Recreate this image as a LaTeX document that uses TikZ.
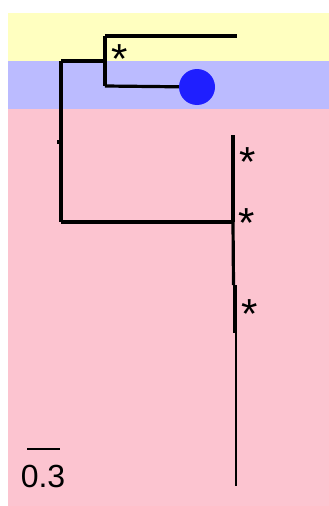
\documentclass[tikz,border=0pt]{standalone}
\usepackage{fontspec}
\setmainfont{Liberation Sans}
\definecolor{bandyellow}{RGB}{255,255,192}
\definecolor{bandblue}{RGB}{187,187,255}
\definecolor{bandpink}{RGB}{252,196,208}
\definecolor{tipblue}{RGB}{31,31,255}
\tikzset{
  branch/.style={black,line width=3.2pt},
  support/.style={inner sep=0pt,anchor=base,font=\fontsize{42}{42}\selectfont},
}

\begin{document}
\begin{tikzpicture}[x=1pt,y=-1pt]
\useasboundingbox (0,0) rectangle (329,506);
\fill[bandyellow] (8,13) rectangle (329,61);
\fill[bandblue] (8,61) rectangle (329,109);
\fill[bandpink] (8,109) rectangle (329,506);
\coordinate (R) at (61,142);
\coordinate (Rs) at (57,142);
\coordinate (A) at (61,61);
\coordinate (B) at (61,222);
\coordinate (A1) at (105,61);
\coordinate (A2) at (105,36);
\coordinate (A3) at (105,86);
\coordinate (T1) at (237,36);
\coordinate (T2) at (197,87);
\coordinate (B1) at (233,222);
\coordinate (L1) at (233,135);
\coordinate (L2) at (233.5,285);
\coordinate (L3) at (235,285);
\coordinate (L4) at (235,333);
\coordinate (L5) at (236,333);
\coordinate (L6) at (236,486);
\coordinate (S1) at (27,449);
\coordinate (S2) at (60,449);
\draw[branch] (Rs)--(R);
\draw[branch] (A)--(B);
\draw[branch] (A)--(A1);
\draw[branch] (A2)--(A3);
\draw[branch] (A2)--(T1);
\draw[branch] (A3)--(T2);
\draw[branch] (B)--(B1);
\draw[branch] (L1)--(B1);
\draw[branch] (B1)--(L2);
\draw[black,line width=4.8pt] (L3)--(L4);
\draw[black,line width=2.8pt] (L5)--(L6);
\fill[tipblue] (T2) circle [radius=18];
\draw[black,line width=1.6pt] (S1)--(S2);
\node[inner sep=0pt,anchor=base,font=\fontsize{32}{32}\selectfont] (scale) at (43,487) {0.3};
\node[support] (s1) at (120,73) {*};
\node[support] (s2) at (248,176) {*};
\node[support] (s3) at (247,237) {*};
\node[support] (s4) at (250,328) {*};
\end{tikzpicture}
\end{document}
